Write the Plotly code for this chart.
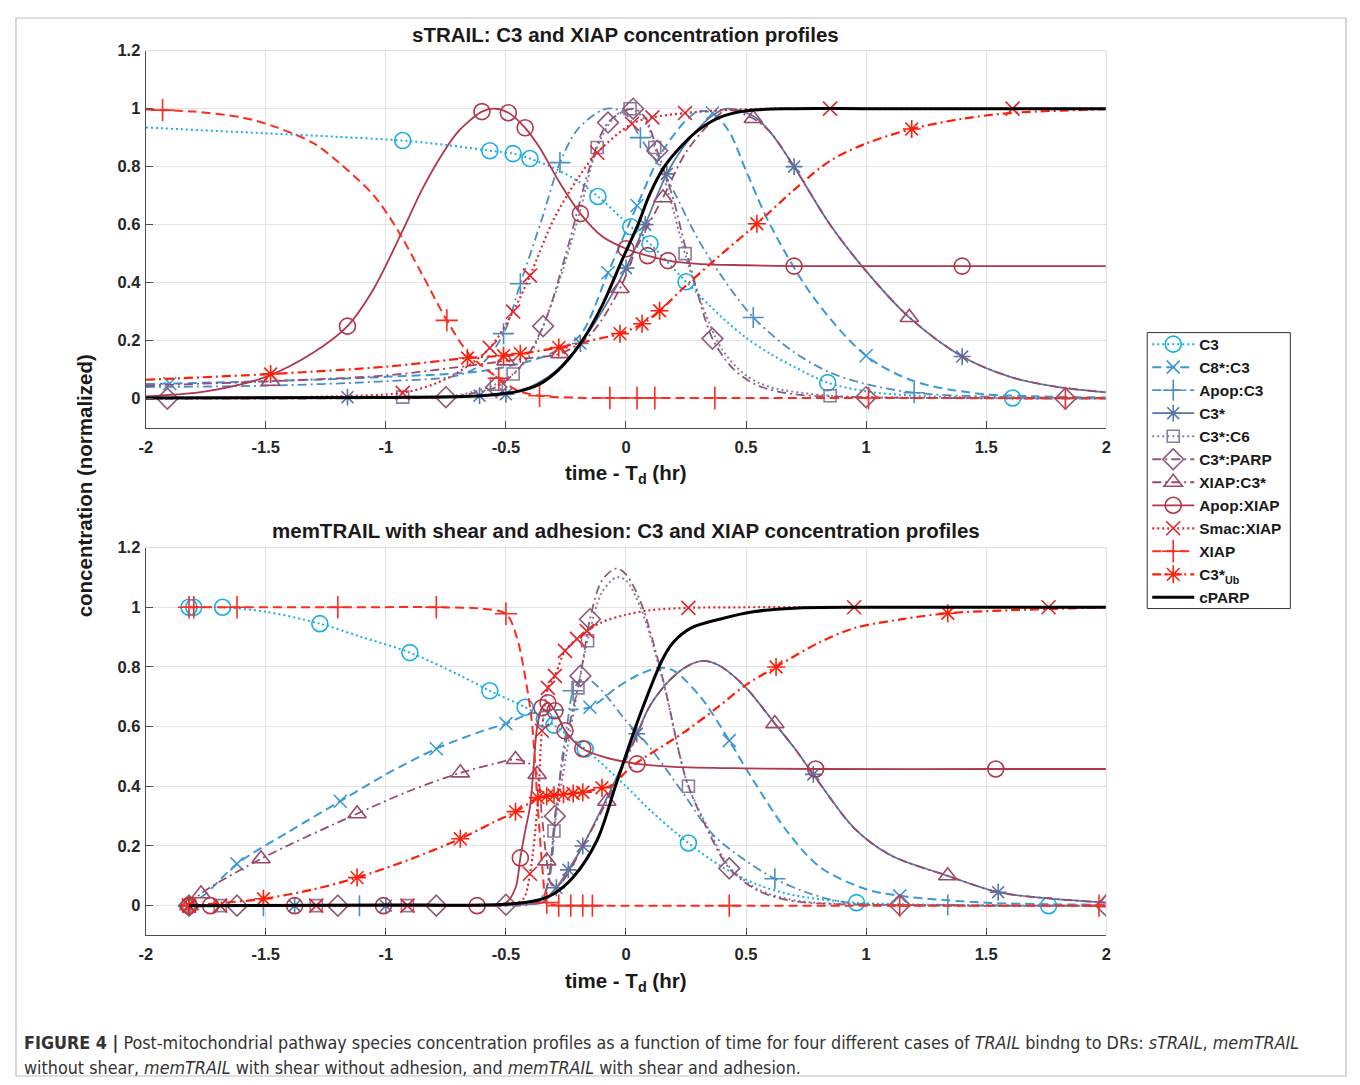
import plotly.graph_objects as go

W, H = 1344, 1069
# measured mapping from figure pixels to the photographed page: page = A + S * fig
AX, SX = 15.3, 0.9906
AY, SY = 16.3, 0.9918

# ---------------- tick labels ----------------
x_tickvals = [-2, -1.5, -1, -0.5, 0, 0.5, 1, 1.5, 2]
x_ticktext = ["-2", "-1.5", "-1", "-0.5", "0", "0.5", "1", "1.5", "2"]
y_tickvals = [0, 0.2, 0.4, 0.6, 0.8, 1.0, 1.2]
y_ticktext = ["0", "0.2", "0.4", "0.6", "0.8", "1", "1.2"]

series_names = ["C3", "C8*:C3", "Apop:C3", "C3*", "C3*:C6", "C3*:PARP", "XIAP:C3*",
                "Apop:XIAP", "Smac:XIAP", "XIAP", "C3*<sub>Ub</sub>", "cPARP"]

# ---------------- TOP PANEL (sTRAIL) ----------------
top_C3_t = [-2, -1.5, -1.2, -0.93, -0.75, -0.567, -0.47, -0.4, -0.3, -0.2, -0.117, 0.02, 0.1, 0.25, 0.4, 0.5, 0.6, 0.7, 0.84, 1.0, 1.2, 1.4, 1.61, 2.0]
top_C3_y = [0.935, 0.915, 0.903, 0.89, 0.875, 0.855, 0.845, 0.828, 0.795, 0.75, 0.697, 0.593, 0.534, 0.403, 0.28, 0.21, 0.155, 0.11, 0.055, 0.025, 0.01, 0.005, 0.002, 0.0]
top_C3_m = [3, 5, 6, 7, 10, 11, 12, 13, 18, 22]

top_C8C3_t = [-2, -1.9, -1.5, -1.0, -0.6, -0.4, -0.3, -0.19, -0.075, 0.046, 0.15, 0.25, 0.3, 0.36, 0.43, 0.5, 0.6, 0.78, 1.0, 1.2, 1.47, 1.7, 2.0]
top_C8C3_y = [0.05, 0.052, 0.06, 0.075, 0.095, 0.13, 0.16, 0.22, 0.434, 0.666, 0.85, 0.96, 0.99, 0.985, 0.92, 0.786, 0.6, 0.35, 0.148, 0.06, 0.017, 0.008, 0.004]
top_C8C3_m = [1, 8, 9, 13, 18]

top_ApopC3_t = [-2, -1.48, -1.0, -0.7, -0.6, -0.51, -0.44, -0.35, -0.275, -0.2, -0.1, -0.05, 0.0, 0.06, 0.17, 0.3, 0.4, 0.53, 0.7, 0.85, 1.0, 1.2, 1.5, 2.0]
top_ApopC3_y = [0.04, 0.045, 0.06, 0.08, 0.12, 0.224, 0.396, 0.62, 0.814, 0.93, 0.995, 1.0, 0.98, 0.9, 0.76, 0.55, 0.42, 0.28, 0.16, 0.09, 0.05, 0.02, 0.007, 0.002]
top_ApopC3_m = [5, 6, 8, 13, 17, 21]

top_C3s_t = [-2, -1.5, -1.16, -0.8, -0.61, -0.5, -0.4, -0.3, -0.19, -0.1, 0.0, 0.08, 0.17, 0.25, 0.35, 0.42, 0.53, 0.6, 0.7, 0.85, 1.0, 1.18, 1.4, 1.6, 1.8, 2.0]
top_C3s_y = [0.003, 0.004, 0.005, 0.007, 0.01, 0.015, 0.04, 0.09, 0.19, 0.3, 0.45, 0.6, 0.775, 0.88, 0.97, 1.0, 0.975, 0.92, 0.8, 0.6, 0.44, 0.28, 0.145, 0.075, 0.04, 0.022]
top_C3s_m = [2, 4, 5, 8, 10, 11, 12, 18, 22]

top_C6_t = [-2, -1.5, -0.93, -0.7, -0.54, -0.47, -0.4, -0.3, -0.2, -0.12, -0.05, 0.017, 0.08, 0.12, 0.18, 0.246, 0.3, 0.4, 0.5, 0.6, 0.85, 1.2, 2.0]
top_C6_y = [0.0, 0.002, 0.005, 0.012, 0.05, 0.085, 0.15, 0.35, 0.62, 0.866, 0.97, 1.0, 0.96, 0.866, 0.7, 0.5, 0.36, 0.17, 0.08, 0.04, 0.01, 0.003, 0.0]
top_C6_m = [2, 4, 5, 9, 11, 13, 15, 20]

top_PARP_t = [-2, -1.91, -1.5, -1.0, -0.75, -0.6, -0.54, -0.45, -0.345, -0.25, -0.15, -0.075, 0.03, 0.08, 0.13, 0.2, 0.23, 0.28, 0.36, 0.45, 0.55, 0.7, 1.0, 1.5, 1.83, 2.0]
top_PARP_y = [0.0, 0.0, 0.0, 0.002, 0.005, 0.025, 0.04, 0.1, 0.25, 0.5, 0.8, 0.952, 1.0, 0.97, 0.855, 0.68, 0.58, 0.42, 0.207, 0.1, 0.045, 0.015, 0.005, 0.001, 0.0, 0.0]
top_PARP_m = [1, 4, 6, 8, 11, 12, 14, 18, 22, 24]

top_XC3s_t = [-2, -1.48, -1.0, -0.64, -0.5, -0.4, -0.275, -0.15, -0.025, 0.05, 0.154, 0.25, 0.35, 0.42, 0.53, 0.6, 0.7, 0.85, 1.0, 1.18, 1.4, 1.6, 1.8, 2.0]
top_XC3s_y = [0.045, 0.06, 0.08, 0.115, 0.13, 0.14, 0.155, 0.22, 0.38, 0.53, 0.693, 0.85, 0.95, 0.995, 0.966, 0.92, 0.8, 0.6, 0.44, 0.28, 0.145, 0.075, 0.04, 0.022]
top_XC3s_m = [1, 4, 6, 8, 10, 14, 19]

top_ApopX_t = [-2, -1.75, -1.5, -1.3, -1.16, -1.05, -0.93, -0.85, -0.775, -0.7, -0.6, -0.55, -0.49, -0.42, -0.36, -0.28, -0.19, -0.1, 0.0, 0.09, 0.175, 0.3, 0.5, 0.7, 1.0, 1.4, 2.0]
top_ApopX_y = [0.008, 0.025, 0.075, 0.16, 0.25, 0.38, 0.58, 0.72, 0.83, 0.92, 0.99, 1.0, 0.986, 0.934, 0.866, 0.75, 0.638, 0.56, 0.517, 0.493, 0.476, 0.465, 0.46, 0.457, 0.457, 0.457, 0.457]
top_ApopX_m = [4, 10, 12, 13, 16, 18, 19, 20, 23, 25]

top_Smac_t = [-2, -1.5, -1.2, -0.93, -0.8, -0.7, -0.567, -0.47, -0.4, -0.3, -0.2, -0.12, 0.025, 0.11, 0.246, 0.4, 0.6, 0.85, 1.2, 1.61, 2.0]
top_Smac_y = [0.002, 0.004, 0.008, 0.02, 0.05, 0.09, 0.175, 0.30, 0.424, 0.62, 0.76, 0.848, 0.948, 0.97, 0.985, 0.995, 1.0, 1.0, 1.0, 1.0, 1.0]
top_Smac_m = [3, 6, 7, 8, 11, 12, 13, 14, 17, 19]

top_XIAP_t = [-2, -1.93, -1.8, -1.6, -1.47, -1.3, -1.19, -1.05, -0.95, -0.85, -0.746, -0.65, -0.53, -0.45, -0.36, -0.2, -0.067, 0.046, 0.12, 0.37, 1.01, 1.62, 1.83, 2.0]
top_XIAP_y = [0.997, 0.995, 0.99, 0.97, 0.94, 0.88, 0.81, 0.7, 0.58, 0.43, 0.27, 0.15, 0.07, 0.027, 0.01, 0.003, 0.002, 0.002, 0.002, 0.002, 0.002, 0.002, 0.002, 0.002]
top_XIAP_m = [1, 10, 12, 14, 16, 17, 18, 19, 20, 22]

top_Ub_t = [-2, -1.48, -1.0, -0.66, -0.51, -0.44, -0.28, -0.15, -0.025, 0.067, 0.14, 0.25, 0.4, 0.545, 0.7, 0.85, 1.0, 1.19, 1.4, 1.6, 2.0]
top_Ub_y = [0.065, 0.085, 0.11, 0.14, 0.148, 0.155, 0.176, 0.2, 0.224, 0.258, 0.303, 0.39, 0.5, 0.603, 0.72, 0.82, 0.88, 0.93, 0.965, 0.985, 0.998]
top_Ub_m = [1, 3, 4, 5, 6, 8, 9, 10, 13, 17]

top_cPARP_t = [-2, -1, -0.6, -0.45, -0.36, -0.28, -0.19, -0.1, -0.012, 0.05, 0.1, 0.16, 0.225, 0.3, 0.39, 0.5, 0.7, 1.0, 2.0]
top_cPARP_y = [0.002, 0.004, 0.01, 0.025, 0.05, 0.1, 0.19, 0.32, 0.486, 0.6, 0.707, 0.8, 0.866, 0.925, 0.97, 0.993, 1.0, 1.0, 1.0]
top_cPARP_m = []

# ---------------- BOTTOM PANEL (memTRAIL with shear and adhesion) ----------------
bot_C3_t = [-1.82, -1.8, -1.68, -1.5, -1.275, -1.1, -0.9, -0.7, -0.567, -0.42, -0.34, -0.3, -0.17, 0.0, 0.1, 0.26, 0.4, 0.55, 0.7, 0.96, 1.3, 1.76, 2.0]
bot_C3_y = [1.0, 1.0, 1.0, 0.985, 0.945, 0.9, 0.848, 0.775, 0.72, 0.665, 0.625, 0.605, 0.525, 0.4, 0.32, 0.21, 0.13, 0.07, 0.035, 0.01, 0.003, 0.0, 0.0]
bot_C3_m = [0, 1, 2, 4, 6, 8, 9, 10, 11, 12, 15, 19, 21]

bot_C8C3_t = [-1.82, -1.75, -1.62, -1.4, -1.19, -1.0, -0.79, -0.6, -0.5, -0.4, -0.3, -0.15, -0.04, 0.06, 0.14, 0.2, 0.31, 0.36, 0.43, 0.53, 0.67, 0.81, 1.0, 1.14, 1.5, 2.0]
bot_C8C3_y = [0.0, 0.04, 0.14, 0.25, 0.35, 0.44, 0.526, 0.585, 0.61, 0.643, 0.655, 0.665, 0.73, 0.777, 0.797, 0.787, 0.70, 0.643, 0.553, 0.42, 0.25, 0.128, 0.055, 0.033, 0.01, 0.003]
bot_C8C3_m = [0, 2, 4, 6, 8, 11, 18, 23]

bot_ApopC3_t = [-1.82, -1.51, -1.11, -0.6, -0.4, -0.35, -0.32, -0.29, -0.265, -0.246, -0.22, -0.19, -0.15, -0.1, 0.0, 0.1, 0.24, 0.36, 0.5, 0.62, 0.75, 0.92, 1.34, 2.0]
bot_ApopC3_y = [0.0, 0.0, 0.0, 0.0, 0.005, 0.03, 0.085, 0.33, 0.5, 0.6, 0.72, 0.754, 0.755, 0.72, 0.62, 0.53, 0.375, 0.24, 0.15, 0.09, 0.045, 0.01, 0.002, 0.0]
bot_ApopC3_m = [0, 1, 2, 10, 19, 22]

bot_C3s_t = [-1.82, -1.38, -1.0, -0.6, -0.4, -0.35, -0.29, -0.24, -0.18, -0.08, 0.045, 0.1, 0.18, 0.25, 0.32, 0.39, 0.5, 0.62, 0.7, 0.78, 0.95, 1.1, 1.34, 1.55, 1.75, 2.0]
bot_C3s_y = [0.0, 0.0, 0.0, 0.0, 0.005, 0.01, 0.06, 0.12, 0.2, 0.36, 0.576, 0.67, 0.754, 0.8, 0.82, 0.804, 0.73, 0.61, 0.53, 0.44, 0.26, 0.17, 0.1, 0.045, 0.025, 0.01]
bot_C3s_m = [0, 1, 2, 6, 7, 8, 10, 19, 23]

bot_C6_t = [-1.82, -1.69, -1.29, -0.91, -0.6, -0.4, -0.35, -0.32, -0.3, -0.25, -0.2, -0.16, -0.1, -0.04, 0.0, 0.06, 0.155, 0.225, 0.26, 0.36, 0.43, 0.55, 0.7, 1.0, 2.0]
bot_C6_y = [0.0, 0.0, 0.0, 0.0, 0.002, 0.005, 0.02, 0.1, 0.25, 0.5, 0.73, 0.888, 1.05, 1.1, 1.09, 1.0, 0.75, 0.5, 0.4, 0.23, 0.13, 0.055, 0.018, 0.003, 0.0]
bot_C6_m = [0, 1, 2, 3, 8, 10, 11, 18]

bot_PARP_t = [-1.82, -1.62, -1.2, -0.79, -0.5, -0.4, -0.35, -0.32, -0.296, -0.25, -0.19, -0.15, -0.1, -0.04, 0.0, 0.06, 0.155, 0.225, 0.26, 0.36, 0.43, 0.55, 0.7, 1.0, 1.14, 1.5, 2.0]
bot_PARP_y = [0.0, 0.0, 0.0, 0.0, 0.003, 0.006, 0.02, 0.1, 0.3, 0.55, 0.77, 0.96, 1.09, 1.13, 1.11, 1.02, 0.755, 0.5, 0.4, 0.22, 0.125, 0.05, 0.015, 0.003, 0.002, 0.0, 0.0]
bot_PARP_m = [0, 1, 2, 3, 4, 8, 10, 11, 20, 24, 26]

bot_XC3s_t = [-1.82, -1.77, -1.52, -1.12, -0.9, -0.69, -0.55, -0.46, -0.4, -0.37, -0.35, -0.33, -0.31, -0.28, -0.24, -0.18, -0.08, 0.045, 0.1, 0.18, 0.25, 0.32, 0.39, 0.5, 0.62, 0.7, 0.78, 0.95, 1.1, 1.34, 1.55, 1.75, 2.0]
bot_XC3s_y = [0.0, 0.04, 0.157, 0.308, 0.385, 0.445, 0.475, 0.49, 0.475, 0.44, 0.3, 0.15, 0.07, 0.07, 0.11, 0.2, 0.35, 0.57, 0.67, 0.754, 0.8, 0.82, 0.804, 0.73, 0.61, 0.53, 0.44, 0.26, 0.17, 0.1, 0.045, 0.025, 0.01]
bot_XC3s_m = [0, 1, 2, 3, 5, 7, 9, 11, 16, 24, 29, 32]

bot_ApopX_t = [-1.82, -1.73, -1.38, -1.01, -0.62, -0.5, -0.46, -0.44, -0.42, -0.4, -0.385, -0.37, -0.35, -0.325, -0.296, -0.254, -0.22, -0.18, -0.1, 0.046, 0.2, 0.5, 0.79, 1.54, 2.0]
bot_ApopX_y = [0.0, 0.0, 0.0, 0.0, 0.0, 0.01, 0.06, 0.16, 0.25, 0.33, 0.46, 0.6, 0.663, 0.68, 0.653, 0.586, 0.553, 0.526, 0.5, 0.475, 0.465, 0.46, 0.458, 0.458, 0.458]
bot_ApopX_m = [0, 1, 2, 3, 4, 7, 12, 13, 14, 15, 17, 19, 22, 23]

bot_Smac_t = [-1.82, -1.69, -1.29, -0.91, -0.6, -0.5, -0.43, -0.4, -0.367, -0.35, -0.325, -0.296, -0.254, -0.204, -0.163, -0.1, 0.0, 0.1, 0.26, 0.5, 0.95, 1.76, 2.0]
bot_Smac_y = [0.0, 0.0, 0.0, 0.0, 0.0, 0.002, 0.02, 0.107, 0.35, 0.586, 0.73, 0.77, 0.854, 0.894, 0.92, 0.95, 0.975, 0.99, 0.998, 1.0, 1.0, 1.0, 1.0]
bot_Smac_m = [0, 1, 2, 3, 7, 9, 10, 11, 12, 13, 14, 18, 20, 21]

bot_XIAP_t = [-1.82, -1.8, -1.62, -1.2, -0.79, -0.6, -0.5, -0.455, -0.41, -0.39, -0.367, -0.346, -0.33, -0.3, -0.28, -0.23, -0.18, -0.14, 0.0, 0.43, 1.14, 1.97, 2.0]
bot_XIAP_y = [1.0, 1.0, 1.0, 1.0, 1.0, 0.995, 0.978, 0.9, 0.72, 0.6, 0.33, 0.107, 0.01, 0.002, 0.0, 0.0, 0.0, 0.0, 0.0, 0.0, 0.0, 0.0, 0.0]
bot_XIAP_m = [0, 1, 2, 3, 4, 6, 12, 14, 15, 16, 17, 19, 20, 21]

bot_Ub_t = [-1.82, -1.7, -1.51, -1.3, -1.12, -0.9, -0.69, -0.55, -0.46, -0.4, -0.367, -0.33, -0.3, -0.26, -0.22, -0.18, -0.1, -0.067, 0.03, 0.24, 0.39, 0.5, 0.625, 0.8, 0.95, 1.15, 1.34, 1.6, 2.0]
bot_Ub_y = [0.0, 0.008, 0.023, 0.055, 0.094, 0.155, 0.224, 0.28, 0.315, 0.345, 0.362, 0.367, 0.37, 0.373, 0.376, 0.38, 0.395, 0.40, 0.47, 0.58, 0.67, 0.74, 0.8, 0.88, 0.93, 0.96, 0.98, 0.99, 1.0]
bot_Ub_m = [0, 2, 4, 6, 8, 10, 11, 12, 13, 14, 15, 16, 22, 26]

bot_cPARP_t = [-1.82, -1.0, -0.5, -0.36, -0.3, -0.22, -0.12, -0.04, 0.06, 0.155, 0.2, 0.27, 0.39, 0.53, 0.7, 1.0, 2.0]
bot_cPARP_y = [0.0, 0.002, 0.005, 0.02, 0.04, 0.095, 0.22, 0.41, 0.643, 0.83, 0.885, 0.93, 0.96, 0.985, 0.997, 1.0, 1.0]
bot_cPARP_m = []

# ---------------- styles ----------------
DOT = "2px,3px"
DASH = "9px,5px"
DASHDOT = "9px,4px,2px,4px"
styles = [
    dict(color="#19AEE6", dash=DOT, width=2.0, symbol="circle-open", size=16),
    dict(color="#3A9AD6", dash=DASH, width=2.0, symbol="x-thin-open", size=13),
    dict(color="#4A8EC4", dash=DASHDOT, width=1.8, symbol="cross-thin-open", size=15),
    dict(color="#5677A8", dash="solid", width=1.8, symbol="asterisk-open", size=14),
    dict(color="#8A7C9E", dash=DOT, width=2.0, symbol="square-open", size=12),
    dict(color="#8C5A7C", dash=DASHDOT, width=1.8, symbol="diamond-open", size=16),
    dict(color="#9C4A68", dash=DASHDOT, width=1.8, symbol="triangle-up-open", size=16),
    dict(color="#B0384A", dash="solid", width=1.8, symbol="circle-open", size=16),
    dict(color="#E2262E", dash=DOT, width=2.2, symbol="x-thin-open", size=14),
    dict(color="#FF2A20", dash=DASH, width=2.0, symbol="cross-thin-open", size=16),
    dict(color="#FF1E0A", dash=DASHDOT, width=2.2, symbol="asterisk-open", size=15),
    dict(color="#000000", dash="solid", width=3.0, symbol=None, size=0),
]

top_data = [
    (top_C3_t, top_C3_y, top_C3_m), (top_C8C3_t, top_C8C3_y, top_C8C3_m),
    (top_ApopC3_t, top_ApopC3_y, top_ApopC3_m), (top_C3s_t, top_C3s_y, top_C3s_m),
    (top_C6_t, top_C6_y, top_C6_m), (top_PARP_t, top_PARP_y, top_PARP_m),
    (top_XC3s_t, top_XC3s_y, top_XC3s_m), (top_ApopX_t, top_ApopX_y, top_ApopX_m),
    (top_Smac_t, top_Smac_y, top_Smac_m), (top_XIAP_t, top_XIAP_y, top_XIAP_m),
    (top_Ub_t, top_Ub_y, top_Ub_m), (top_cPARP_t, top_cPARP_y, top_cPARP_m),
]
bot_data = [
    (bot_C3_t, bot_C3_y, bot_C3_m), (bot_C8C3_t, bot_C8C3_y, bot_C8C3_m),
    (bot_ApopC3_t, bot_ApopC3_y, bot_ApopC3_m), (bot_C3s_t, bot_C3s_y, bot_C3s_m),
    (bot_C6_t, bot_C6_y, bot_C6_m), (bot_PARP_t, bot_PARP_y, bot_PARP_m),
    (bot_XC3s_t, bot_XC3s_y, bot_XC3s_m), (bot_ApopX_t, bot_ApopX_y, bot_ApopX_m),
    (bot_Smac_t, bot_Smac_y, bot_Smac_m), (bot_XIAP_t, bot_XIAP_y, bot_XIAP_m),
    (bot_Ub_t, bot_Ub_y, bot_Ub_m), (bot_cPARP_t, bot_cPARP_y, bot_cPARP_m),
]

fig = go.Figure()

def add_panel(data, xa, ya):
    for (t, y, m), st in zip(data, styles):
        fig.add_trace(go.Scatter(
            x=t, y=y, mode="lines", xaxis=xa, yaxis=ya, showlegend=False,
            line=dict(color=st["color"], dash=st["dash"], width=st["width"], shape="spline", smoothing=0.9),
            hoverinfo="skip"))
        if m and st["symbol"]:
            fig.add_trace(go.Scatter(
                x=[t[i] for i in m], y=[y[i] for i in m], mode="markers",
                xaxis=xa, yaxis=ya, showlegend=False, hoverinfo="skip",
                marker=dict(symbol=st["symbol"], size=st["size"], color=st["color"],
                            line=dict(color=st["color"], width=1.6))))

add_panel(top_data, "x", "y")
add_panel(bot_data, "x2", "y2")

# legend entries
for name, st in zip(series_names, styles):
    if st["symbol"]:
        fig.add_trace(go.Scatter(
            x=[None], y=[None], mode="lines+markers", name=name, xaxis="x", yaxis="y",
            line=dict(color=st["color"], dash=st["dash"], width=st["width"]),
            marker=dict(symbol=st["symbol"], size=min(st["size"], 16), color=st["color"],
                        line=dict(color=st["color"], width=1.6))))
    else:
        fig.add_trace(go.Scatter(
            x=[None], y=[None], mode="lines", name=name, xaxis="x", yaxis="y",
            line=dict(color=st["color"], width=st["width"])))

def px_x(p):
    return ((p - AX) / SX) / W

def px_y(p):
    return 1 - ((p - AY) / SY) / H

FONT = "Liberation Sans, Arial, Helvetica, sans-serif"
xdom = [px_x(146), px_x(1106)]
ydom_top = [px_y(427), px_y(50)]
ydom_bot = [px_y(935), px_y(547)]

axis_common = dict(showgrid=True, gridcolor="#E3E3E3", gridwidth=1, zeroline=False,
                   showline=True, linecolor="#4D4D4D", linewidth=1.2,
                   ticks="inside", ticklen=7, tickcolor="#4D4D4D", tickwidth=1.2,
                   tickfont=dict(family=FONT, size=16.5, color="#262626", weight="bold"))

fig.update_layout(
    width=W, height=H, margin=dict(l=0, r=0, t=0, b=0),
    paper_bgcolor="white", plot_bgcolor="white",
    xaxis=dict(domain=xdom, range=[-2, 2], tickvals=x_tickvals, ticktext=x_ticktext,
               anchor="y", ticklabelstandoff=4, **axis_common),
    yaxis=dict(domain=ydom_top, range=[-0.1, 1.2], tickvals=y_tickvals, ticktext=y_ticktext,
               anchor="x", ticklabelstandoff=1, **axis_common),
    xaxis2=dict(domain=xdom, range=[-2, 2], tickvals=x_tickvals, ticktext=x_ticktext,
                anchor="y2", ticklabelstandoff=4, **axis_common),
    yaxis2=dict(domain=ydom_bot, range=[-0.1, 1.2], tickvals=y_tickvals, ticktext=y_ticktext,
                anchor="x2", ticklabelstandoff=1, **axis_common),
    legend=dict(x=px_x(1147), y=px_y(327), xanchor="left", yanchor="top",
                bgcolor="rgba(0,0,0,0)", borderwidth=0,
                font=dict(family=FONT, size=15.4, color="#1A1A1A", weight="bold"),
                itemwidth=42, itemsizing="trace", tracegroupgap=0),
    showlegend=True,
)

shapes = []
for y0, y1 in [(ydom_top[0], ydom_top[1]), (ydom_bot[0], ydom_bot[1])]:
    shapes.append(dict(type="line", xref="paper", yref="paper", x0=xdom[0], x1=xdom[1], y0=y1, y1=y1,
                       line=dict(color="#D9D9D9", width=1)))
    shapes.append(dict(type="line", xref="paper", yref="paper", x0=xdom[1], x1=xdom[1], y0=y0, y1=y1,
                       line=dict(color="#D9D9D9", width=1)))
# outer frame (as close to the page edge as the figure allows)
shapes.append(dict(type="rect", xref="paper", yref="paper", x0=1.0 / W, x1=1 - 1.0 / W,
                   y0=1.0 / H, y1=1 - 1.0 / H, line=dict(color="#BDBDBD", width=1.2), layer="below"))
# legend box
shapes.append(dict(type="rect", xref="paper", yref="paper", x0=px_x(1147), x1=px_x(1290),
                   y0=px_y(608), y1=px_y(332), fillcolor="white",
                   line=dict(color="#333333", width=1), layer="above"))
fig.update_layout(shapes=shapes)

ann = []
TS = 20.5
ann.append(dict(text="<b>sTRAIL: C3 and XIAP concentration profiles</b>", x=px_x(626), y=px_y(34),
                xref="paper", yref="paper", showarrow=False, xanchor="center", yanchor="middle",
                font=dict(family=FONT, size=TS, color="#1A1A1A")))
ann.append(dict(text="<b>memTRAIL with shear and adhesion: C3 and XIAP concentration profiles</b>",
                x=px_x(626), y=px_y(530), xref="paper", yref="paper", showarrow=False,
                xanchor="center", yanchor="middle", font=dict(family=FONT, size=TS, color="#1A1A1A")))
for yy in [473, 982]:
    ann.append(dict(text="<b>time - T<sub>d</sub> (hr)</b>", x=px_x(626), y=px_y(yy),
                    xref="paper", yref="paper", showarrow=False, xanchor="center", yanchor="middle",
                    font=dict(family=FONT, size=TS, color="#1A1A1A")))
ann.append(dict(text="<b>concentration (normalized)</b>", x=px_x(85), y=px_y(485),
                xref="paper", yref="paper", showarrow=False, xanchor="center", yanchor="middle",
                textangle=-90, font=dict(family=FONT, size=TS, color="#1A1A1A")))
CAP_FONT = "Liberation Sans Narrow, DejaVu Sans Condensed, Liberation Sans, sans-serif"
ann.append(dict(text="<b>FIGURE 4 |</b> Post-mitochondrial pathway species concentration profiles as a function of time for four different cases of <i>TRAIL</i> bindng to DRs: <i>sTRAIL</i>, <i>memTRAIL</i>",
                x=px_x(22), y=px_y(1042), xref="paper", yref="paper", showarrow=False,
                xanchor="left", yanchor="middle", align="left",
                font=dict(family=CAP_FONT, size=17.8, color="#333333")))
ann.append(dict(text="without shear, <i>memTRAIL</i> with shear without adhesion, and <i>memTRAIL</i> with shear and adhesion.",
                x=px_x(22), y=px_y(1067), xref="paper", yref="paper", showarrow=False,
                xanchor="left", yanchor="middle", align="left",
                font=dict(family=CAP_FONT, size=17.8, color="#333333")))
fig.update_layout(annotations=ann)

fig.write_html("out.html")
